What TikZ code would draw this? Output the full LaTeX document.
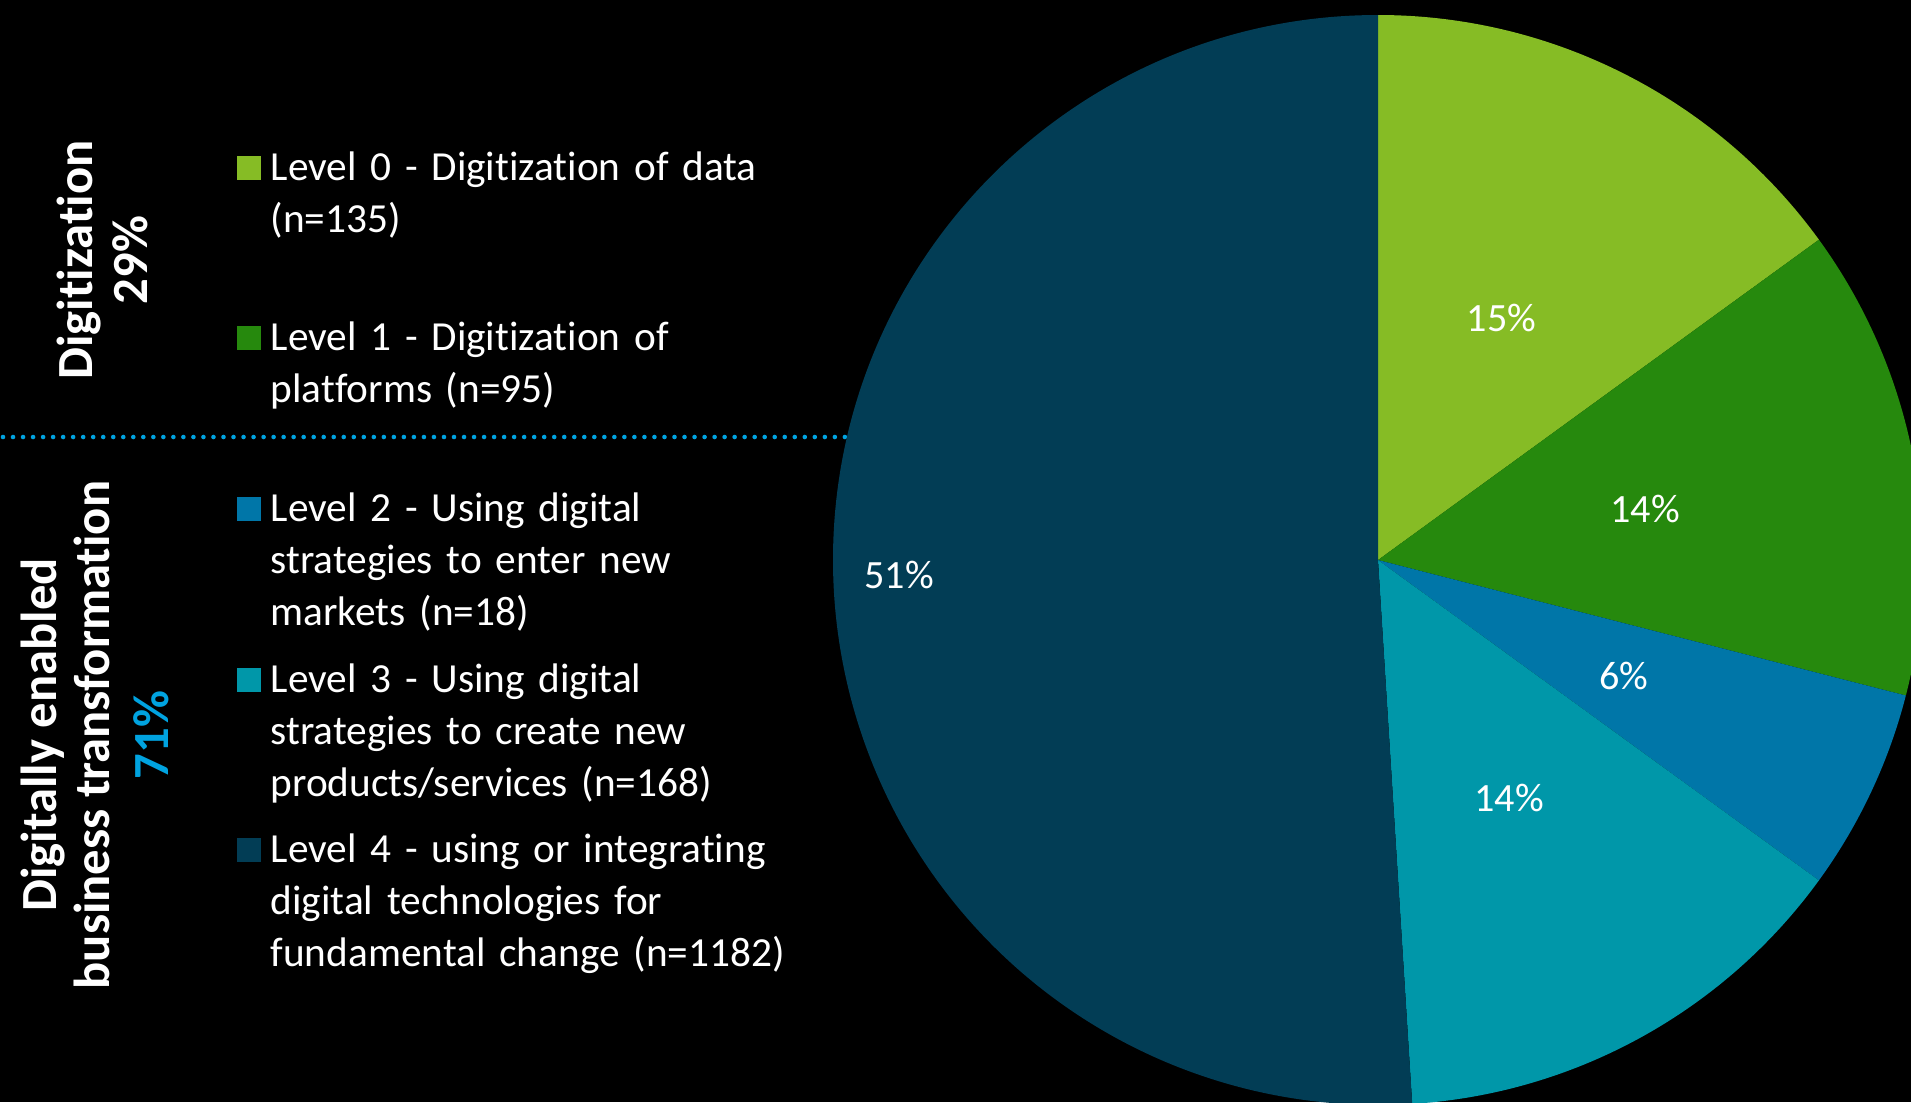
\documentclass[tikz,border=0pt]{standalone}
\usepackage{fontspec}
\setmainfont{Carlito}[RawFeature={-liga;-clig}]
\usepackage{tikz}
\definecolor{lvlzero}{HTML}{86BC25}
\definecolor{lvlone}{HTML}{26890D}
\definecolor{lvltwo}{HTML}{0076A8}
\definecolor{lvlthree}{HTML}{0097A9}
\definecolor{lvlfour}{HTML}{023D55}
\definecolor{accent}{HTML}{00A3E0}
\def\pieslice#1#2#3{\fill[#1] (0,0) -- (#2:545) arc[start angle=#2, end angle=#3, radius=545] -- cycle;}
\def\legendsize{\fontsize{11.75}{14.8}\selectfont}
\tikzset{
    keybox/.style={inner sep=0pt, minimum size=0.24cm},
    keytext/.style={anchor=base west, inner sep=0pt, text=white, text width=6cm, align=left, font=\legendsize},
    pctlabel/.style={text=white, inner sep=0pt, font=\fontsize{11.4}{13}\selectfont},
    sidelabel/.style={rotate=90, anchor=base, inner sep=0pt, text=white, font=\fontsize{14.4}{16}\selectfont\bfseries},
    dotline/.style={accent, line width=1.3pt, line cap=round, dash pattern=on 0pt off 2.85pt}
}

\begin{document}
\begin{tikzpicture}[x=0.01cm, y=-0.01cm]
            \useasboundingbox (0,0) rectangle (1911,1102);
            \fill[black] (0,0) rectangle (1911,1102);
            \clip (0,0) rectangle (1911,1102);
            \draw[dotline] (3,437) -- (850,437);
            \begin{scope}[shift={(1378,560)}, yscale=-1]
                \pieslice{lvlzero}{36}{90}
                \pieslice{lvlone}{-14.4}{36}
                \pieslice{lvltwo}{-36}{-14.4}
                \pieslice{lvlthree}{-86.4}{-36}
                \pieslice{lvlfour}{90}{273.6}
                \node[pctlabel] (pctzero)  at (63:272)    {15\%};
                \node[pctlabel] (pctone)   at (10.8:272)  {14\%};
                \node[pctlabel] (pcttwo)   at (-25.2:272) {6\%};
                \node[pctlabel] (pctthree) at (-61.2:272) {14\%};
                \node[pctlabel] (pctfour)  at (181.8:479) {51\%};
            \end{scope}
            \begin{scope}[shift={(0,0)}]
                \node[sidelabel] (digi)    at (92,260)  {Digitization};
                \node[sidelabel] (digipct) at (147,260) {29\%};
                \node[sidelabel] (trans)   at (57,735)  {Digitally enabled};
                \node[sidelabel] (transb)  at (110,735) {business transformation};
                \node[sidelabel, text=accent] (transpct) at (168,735) {71\%};
            \end{scope}
            \begin{scope}[shift={(0,0)}]
                \node[keybox, fill=lvlzero]  (keyzero)  at (249,168) {};
                \node[keybox, fill=lvlone]   (keyone)   at (249,338) {};
                \node[keybox, fill=lvltwo]   (keytwo)   at (249,509) {};
                \node[keybox, fill=lvlthree] (keythree) at (249,680) {};
                \node[keybox, fill=lvlfour]  (keyfour)  at (249,850) {};
                \node[keytext] (levzero)  at (270,180) {Level 0 - Digitization of data\\(n=135)};
                \node[keytext] (levone)   at (270,350) {Level 1 - Digitization of\\platforms (n=95)};
                \node[keytext] (levtwo)   at (270,521) {Level 2 - Using digital\\strategies to enter new\\markets (n=18)};
                \node[keytext] (levthree) at (270,692) {Level 3 - Using digital\\strategies to create new\\products/services (n=168)};
                \node[keytext] (levfour)  at (270,862) {Level 4 - using or integrating\\digital technologies for\\fundamental change (n=1182)};
            \end{scope}
        \end{tikzpicture}
\end{document}
